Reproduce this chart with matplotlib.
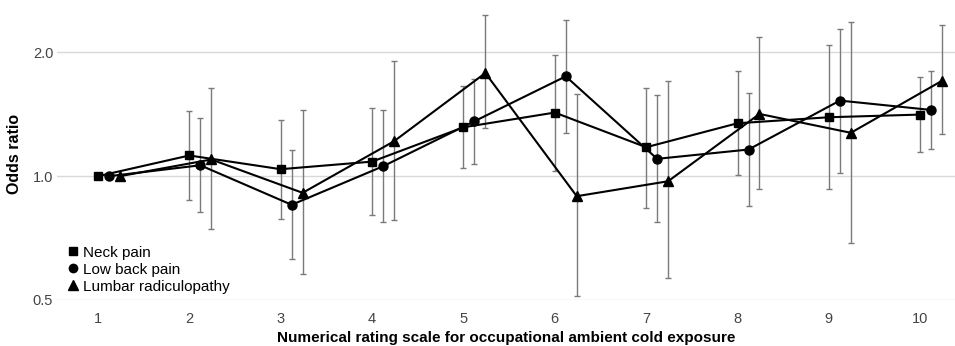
import matplotlib
matplotlib.use("Agg")
import matplotlib.pyplot as plt
from matplotlib.lines import Line2D
import numpy as np

plt.rcParams['font.family'] = ['Liberation Sans', 'DejaVu Sans']

ratings = [1, 2, 3, 4, 5, 6, 7, 8, 9, 10]

neck_or = [1.0, 1.123, 1.04, 1.085, 1.315, 1.428, 1.176, 1.345, 1.391, 1.412]
neck_lo = [1.0, 0.876, 0.789, 0.806, 1.048, 1.032, 0.839, 1.008, 0.930, 1.144]
neck_hi = [1.0, 1.438, 1.37, 1.462, 1.66, 1.974, 1.639, 1.805, 2.088, 1.743]

lbp_or = [1.0, 1.063, 0.852, 1.057, 1.36, 1.749, 1.102, 1.161, 1.527, 1.449]
lbp_lo = [1.0, 0.818, 0.628, 0.772, 1.073, 1.277, 0.773, 0.847, 1.017, 1.165]
lbp_hi = [1.0, 1.388, 1.161, 1.446, 1.723, 2.397, 1.573, 1.59, 2.28, 1.802]

lr_or = [1.0, 1.098, 0.911, 1.216, 1.782, 0.894, 0.972, 1.417, 1.275, 1.707]
lr_lo = [1.0, 0.746, 0.578, 0.781, 1.308, 0.510, 0.565, 0.929, 0.688, 1.267]
lr_hi = [1.0, 1.639, 1.449, 1.906, 2.465, 1.582, 1.705, 2.184, 2.365, 2.326]

series = [
    ("Neck pain", neck_or, neck_lo, neck_hi, "s", 0.0, 6),
    ("Low back pain", lbp_or, lbp_lo, lbp_hi, "o", 0.12, 6.5),
    ("Lumbar radiculopathy", lr_or, lr_lo, lr_hi, "^", 0.24, 7),
]

fig = plt.figure(figsize=(9.55, 3.46), dpi=100)
ax = fig.add_axes([0.06, 0.133, 0.94, 0.845])

x = np.array(ratings, dtype=float)
handles = []
for name, orv, lo, hi, mk, off, ms in series:
    orv = np.array(orv); lo = np.array(lo); hi = np.array(hi)
    xs = x + off
    mask = hi > lo
    ax.errorbar(xs[mask], orv[mask], yerr=[orv[mask] - lo[mask], hi[mask] - orv[mask]],
                fmt='none', ecolor='#7a7a7a', elinewidth=1.0, capsize=2.5, capthick=1.0, zorder=2)
    ax.plot(xs, orv, color='black', lw=1.5, marker=mk, ms=ms, mfc='black', mec='black', zorder=3)
    handles.append(Line2D([], [], ls='none', marker=mk, color='black', ms=ms - 0.5, label=name))

ax.set_yscale('log')
ax.set_ylim(0.5, 2.57)
ax.set_xlim(0.555, 10.38)
ax.set_yticks([0.5, 1.0, 2.0])
ax.set_yticklabels(['0.5', '1.0', '2.0'])
ax.yaxis.set_minor_locator(matplotlib.ticker.NullLocator())
ax.set_xticks(ratings)
ax.set_xticklabels([str(r) for r in ratings])
ax.tick_params(axis='both', length=0, labelsize=10.5, colors='#444444')
ax.tick_params(axis='x', pad=9)
ax.tick_params(axis='y', pad=3)
ax.grid(axis='y', color='#d9d9d9', lw=1.0, zorder=0)
ax.set_axisbelow(True)
for s in ax.spines.values():
    s.set_visible(False)

ax.set_xlabel('Numerical rating scale for occupational ambient cold exposure',
              fontsize=11, fontweight='bold', labelpad=3)
ax.set_ylabel('Odds ratio', fontsize=11.5, fontweight='bold', labelpad=8)

leg = ax.legend(handles=handles, loc='lower left', bbox_to_anchor=(0.0, -0.015),
                frameon=False, fontsize=11, handlelength=0.6, handletextpad=0.35,
                labelspacing=0.2, borderaxespad=0.3)

fig.savefig('out.png', dpi=100)
